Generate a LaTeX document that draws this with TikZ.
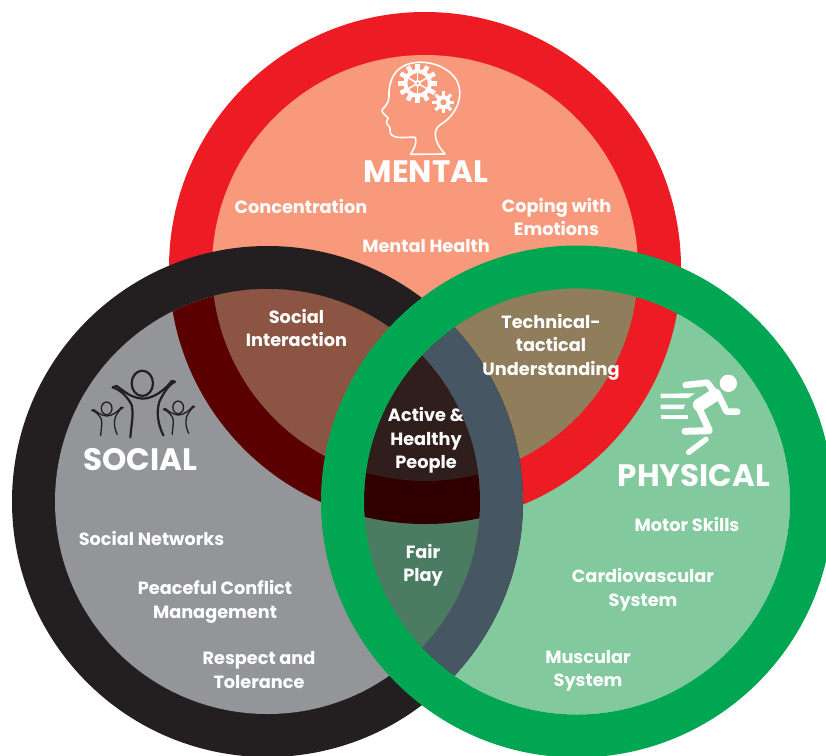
\documentclass[tikz,border=0pt]{standalone}
\usepackage{fontspec}
\setmainfont{Poppins}
\definecolor{cRed}{HTML}{ED1C24}
\definecolor{cSalmon}{HTML}{F9997B}
\definecolor{cBlack}{HTML}{231F20}
\definecolor{cGray}{HTML}{939598}
\definecolor{cGreen}{HTML}{00A651}
\definecolor{cLight}{HTML}{82C99D}
\definecolor{cBrown}{HTML}{8C5543}
\definecolor{cDarkRed}{HTML}{5A0000}
\definecolor{cOlive}{HTML}{8F7D5B}
\definecolor{cSlate}{HTML}{465663}
\definecolor{cFair}{HTML}{4B7B60}
\definecolor{cCore}{HTML}{2F1E1C}
\definecolor{cDeep}{HTML}{300000}
\newcommand{\MO}{(425,268) circle[radius=256pt]}
\newcommand{\MI}{(425,268) circle[radius=213pt]}
\newcommand{\SO}{(267.5,501.5) circle[radius=255.5pt]}
\newcommand{\SI}{(267.5,501.5) circle[radius=212.5pt]}
\newcommand{\PO}{(577,501.5) circle[radius=256pt]}
\newcommand{\PI}{(577,501.5) circle[radius=213pt]}
\tikzset{
  lbl/.style={text=white,font=\fontsize{17.7}{23.5}\selectfont\bfseries,align=center,inner sep=0pt},
  ttl/.style={text=white,font=\fontsize{31}{34}\selectfont\bfseries,inner sep=0pt},
  headline/.style={draw=white,line width=1.6pt,line join=round,line cap=round},
  gearline/.style={draw=white},
  people/.style={draw=cBlack,line cap=round,line join=round},
  runner/.style={draw=white,line cap=round,line join=round}
}
\begin{document}
\begin{tikzpicture}[x=1pt,y=-1pt]
\useasboundingbox (0,0) rectangle (826,755);
\clip (0,0) rectangle (826,755);
\fill[white] (0,0) rectangle (826,755);
% mental
\fill[cRed] \MO;
\fill[cSalmon] \MI;
% physical inner
\fill[cLight] \PI;
\begin{scope}\clip \PI; \fill[cRed] \MO; \fill[cOlive] \MI; \end{scope}
% social
\fill[cBlack] \SO;
\fill[cGray] \SI;
\begin{scope}\clip \SI; \fill[cDarkRed] \MO; \fill[cBrown] \MI; \end{scope}
% social under physical inner
\begin{scope}\clip \PI;
  \fill[cSlate] \SO;
  \fill[cFair] \SI;
  \begin{scope}\clip \SI; \fill[cDeep] \MO; \fill[cCore] \MI; \end{scope}
\end{scope}
% physical ring
\fill[cGreen,even odd rule] \PO \PI;
% head icon
\begin{scope}[shift={(340,40)},x=0.3333pt,y=-0.3333pt]
  \draw[headline] (212,343) .. controls (222,325) and (232,310) .. (226,292)
    .. controls (205,290) and (170,298) .. (155,285)
    .. controls (145,275) and (155,265) .. (146,258)
    .. controls (135,248) and (140,240) .. (145,235)
    .. controls (135,225) and (122,215) .. (127,208)
    .. controls (135,200) and (146,190) .. (147,170)
    .. controls (145,120) and (165,85) .. (205,72)
    .. controls (260,55) and (330,80) .. (352,125)
    .. controls (372,170) and (350,225) .. (300,255)
    .. controls (275,272) and (285,310) .. (315,342) -- cycle;
  \foreach \a in {0,30,...,330}{
    \draw[gearline,line width=4.6pt] (233,130)++(\a:38) -- ++(\a:21);
  }
  \draw[gearline,line width=4pt] (233,130) circle[radius=37];
  \foreach \a in {30,90,...,330}{
    \draw[gearline,line width=1.5pt] (233,130) -- ++(\a:38);
  }
  \fill[white] (233,130) circle[radius=10];
  \fill[cSalmon] (233,130) circle[radius=4];
  \foreach \a in {0,45,...,315}{
    \draw[gearline,line width=3.2pt] (310,187)++(\a:20) -- ++(\a:13);
  }
  \draw[gearline,line width=4pt] (310,187) circle[radius=16];
\end{scope}
% social icon
\newcommand{\personicon}{%
  \draw (217,100) ellipse[x radius=32,y radius=38];
  \draw (128,112) .. controls (155,120) and (175,145) .. (185,165) .. controls (192,195) and (183,230) .. (181,262);
  \draw (315,95) .. controls (295,105) and (280,130) .. (268,155) .. controls (258,190) and (265,225) .. (280,256);
  \draw (128,112) -- (140,108) .. controls (165,125) and (180,142) .. (217,146) .. controls (250,146) and (285,120) .. (305,93) -- (315,95);
}
\begin{scope}[shift={(70,350)},x=0.3333pt,y=-0.3333pt,people,line width=2.2pt]
  \personicon
\end{scope}
\begin{scope}[shift={(70,350)},people,line width=1.3pt]
  \begin{scope}[shift={(0.5,41.7)},x=0.1667pt,y=-0.1667pt]\personicon\end{scope}
  \begin{scope}[shift={(72,40.7)},x=0.1667pt,y=-0.1667pt]\personicon\end{scope}
\end{scope}
% runner icon
\begin{scope}[shift={(620,360)},x=0.3333pt,y=-0.3333pt]
  \fill[white] (325,70) circle[radius=26];
  \fill[white] (122,101) -- (225,100) -- (205,114) -- (122,114) -- cycle;
  \fill[white] (122,134) -- (195,134) -- (190,147) -- (122,147) -- cycle;
  \fill[white] (122,164) -- (203,164) -- (203,178) -- (122,178) -- cycle;
  \draw[runner,line width=6.5pt] (197,75) -- (262,68) -- (290,105);
  \draw[runner,line width=13pt] (285,105) -- (238,135);
  \draw[runner,line width=6.5pt] (298,110) -- (320,155) -- (352,155);
  \draw[runner,line width=7pt] (235,140) -- (268,212) -- (195,214);
  \draw[runner,line width=5.5pt] (258,238) -- (206,277);
\end{scope}
% titles
\node[ttl] (mental) at (426,171.5) {MENTAL};
\node[ttl] (social) at (140,460) {SOCIAL};
\node[ttl] (physical) at (694,475.5) {PHYSICAL};
% labels
\node[lbl] (conc) at (301,206.5) {Concentration};
\node[lbl] (mhealth) at (426,246.5) {Mental Health};
\node[lbl] (coping) at (556.5,217) {Coping with\\Emotions};
\node[lbl] (sint) at (296.5,328) {Social\\Interaction};
\node[lbl] (tech) at (551,347) {Technical-\\tactical\\Understanding};
\node[lbl] (active) at (426,440.5) {Active \&\\Healthy\\People};
\node[lbl] (fair) at (423,565) {Fair\\Play};
\node[lbl] (net) at (151.5,538.5) {Social Networks};
\node[lbl] (peace) at (215,602) {Peaceful Conflict\\Management};
\node[lbl] (resp) at (259,670) {Respect and\\Tolerance};
\node[lbl] (motor) at (687,524.5) {Motor Skills};
\node[lbl] (cardio) at (643,589.5) {Cardiovascular\\System};
\node[lbl] (musc) at (588,671) {Muscular\\System};
\end{tikzpicture}
\end{document}
